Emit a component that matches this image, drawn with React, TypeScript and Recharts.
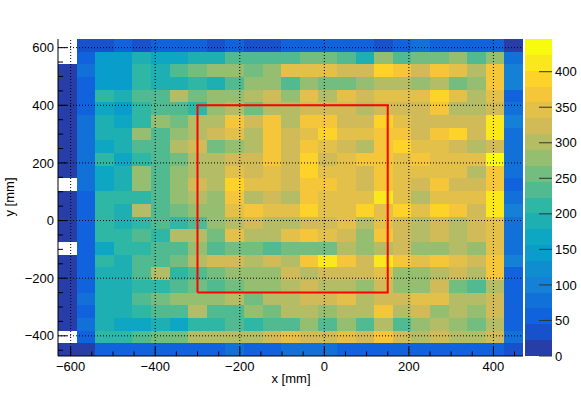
import React from 'react';
import { ComposedChart, XAxis, YAxis, ReferenceArea, ReferenceLine, Scatter } from 'recharts';

const W = 581;
const H = 396;
const FONT = '"Liberation Sans", Arial, Helvetica, sans-serif';

// bin edges (mm)
const xEdges = [-630, -586, -542, -498, -454, -410, -366, -322, -278, -234, -190, -146, -102, -58, -14, 30, 74, 118, 162, 206, 250, 294, 338, 382, 426, 470];
const yEdges = [630, 586, 542, 498, 454, 410, 366, 322, 278, 234, 190, 146, 102, 58, 14, -30, -74, -118, -162, -206, -250, -294, -338, -382, -426, -470];

// counts per row, top row first, columns left to right
const row00 = [0, 28, 25, 50, 28, 50, 50, 50, 30, 50, 28, 28, 50, 50, 50, 50, 55, 30, 50, 70, 55, 50, 50, 50, 20];
const row01 = [0, 50, 140, 140, 185, 165, 165, 195, 190, 230, 235, 235, 235, 255, 255, 235, 200, 275, 245, 255, 255, 275, 225, 275, 85];
const row02 = [15, 78, 145, 145, 210, 190, 235, 255, 280, 280, 255, 280, 345, 355, 345, 325, 325, 390, 368, 323, 368, 345, 300, 368, 90];
const row03 = [15, 65, 145, 140, 210, 195, 190, 210, 195, 230, 280, 280, 230, 280, 255, 255, 280, 300, 300, 280, 300, 255, 280, 365, 95];
const row04 = [15, 55, 210, 200, 235, 235, 300, 255, 280, 280, 300, 323, 280, 345, 300, 345, 323, 345, 345, 345, 390, 345, 300, 345, 65];
const row05 = [15, 65, 160, 150, 210, 225, 240, 220, 280, 300, 255, 300, 300, 320, 320, 320, 300, 320, 320, 320, 365, 300, 300, 320, 75];
const row06 = [15, 75, 195, 170, 210, 270, 260, 300, 300, 365, 320, 365, 300, 365, 365, 320, 320, 390, 345, 320, 320, 320, 320, 410, 105];
const row07 = [15, 75, 190, 185, 275, 235, 275, 290, 320, 345, 300, 365, 320, 345, 390, 345, 345, 365, 365, 320, 365, 390, 320, 410, 80];
const row08 = [15, 70, 175, 185, 235, 235, 300, 320, 255, 280, 300, 365, 320, 365, 345, 320, 300, 365, 390, 345, 345, 320, 300, 320, 80];
const row09 = [15, 75, 205, 170, 210, 235, 255, 300, 300, 320, 320, 365, 320, 390, 320, 345, 365, 365, 345, 365, 345, 345, 345, 440, 80];
const row10 = [15, 75, 170, 190, 275, 235, 275, 300, 300, 345, 320, 345, 320, 390, 345, 345, 320, 365, 345, 345, 345, 345, 300, 365, 80];
const row11 = [0, 75, 170, 185, 275, 235, 275, 320, 300, 390, 345, 345, 320, 365, 365, 345, 320, 365, 345, 320, 365, 320, 320, 365, 65];
const row12 = [15, 60, 210, 210, 215, 235, 280, 300, 280, 365, 300, 330, 300, 365, 340, 345, 340, 410, 345, 300, 345, 345, 345, 410, 80];
const row13 = [15, 55, 205, 195, 300, 235, 255, 280, 280, 345, 365, 345, 345, 390, 345, 345, 390, 345, 390, 345, 390, 365, 320, 410, 100];
const row14 = [15, 55, 205, 180, 210, 235, 210, 245, 280, 300, 320, 300, 300, 320, 320, 345, 300, 345, 320, 300, 320, 300, 320, 345, 80];
const row15 = [15, 55, 205, 205, 235, 210, 300, 300, 255, 345, 300, 300, 345, 365, 345, 320, 280, 365, 320, 300, 320, 300, 320, 345, 80];
const row16 = [0, 55, 160, 205, 210, 235, 235, 275, 235, 255, 255, 235, 255, 255, 255, 300, 280, 300, 320, 280, 280, 300, 280, 345, 80];
const row17 = [15, 55, 205, 190, 235, 235, 255, 300, 320, 320, 300, 320, 300, 365, 410, 365, 320, 410, 365, 345, 365, 345, 320, 365, 90];
const row18 = [15, 55, 185, 190, 235, 300, 210, 235, 255, 280, 280, 280, 320, 300, 320, 320, 320, 345, 280, 280, 300, 320, 300, 365, 60];
const row19 = [15, 55, 185, 185, 220, 210, 235, 255, 245, 255, 280, 280, 300, 320, 300, 300, 280, 320, 280, 280, 320, 255, 230, 300, 60];
const row20 = [15, 70, 185, 185, 235, 255, 280, 280, 280, 300, 255, 300, 300, 320, 320, 345, 300, 320, 320, 345, 345, 300, 300, 320, 60];
const row21 = [15, 65, 185, 185, 210, 235, 235, 300, 235, 235, 280, 255, 300, 300, 280, 300, 300, 365, 300, 320, 280, 300, 280, 320, 60];
const row22 = [15, 70, 180, 170, 170, 180, 165, 220, 210, 235, 210, 235, 235, 280, 235, 280, 235, 300, 235, 280, 300, 280, 255, 300, 60];
const row23 = [0, 65, 210, 210, 235, 255, 255, 300, 300, 300, 300, 320, 345, 320, 320, 345, 320, 365, 320, 300, 320, 300, 300, 320, 80];
const row24 = [15, 20, 50, 50, 50, 50, 50, 50, 55, 70, 50, 50, 70, 70, 70, 55, 50, 50, 50, 50, 50, 50, 50, 50, 25];

const counts = [row00, row01, row02, row03, row04, row05, row06, row07, row08, row09, row10, row11, row12,
  row13, row14, row15, row16, row17, row18, row19, row20, row21, row22, row23, row24];

const xTicks = [-600, -550, -500, -450, -400, -350, -300, -250, -200, -150, -100, -50, 0, 50, 100, 150, 200, 250, 300, 350, 400, 450];
const yTicks = [-450, -400, -350, -300, -250, -200, -150, -100, -50, 0, 50, 100, 150, 200, 250, 300, 350, 400, 450, 500, 550, 600];
const xGrid = [-600, -400, -200, 0, 200, 400];
const yGrid = [-400, -200, 0, 200, 400, 600];
const zTicks = [0, 50, 100, 150, 200, 250, 300, 350, 400];
const boxCorners = [
  { x: -300, y: -250 },
  { x: -300, y: 400 },
  { x: 150, y: 400 },
  { x: 150, y: -250 },
  { x: -300, y: -250 },
];

const zMax = 446;
const nLevels = 20;

// kBird palette stops
const pStops = [0.0, 0.125, 0.25, 0.375, 0.5, 0.625, 0.75, 0.875, 1.0];
const pRed = [0.2082, 0.0592, 0.078, 0.0232, 0.1802, 0.5301, 0.8186, 0.9956, 0.9764];
const pGreen = [0.1664, 0.3599, 0.5041, 0.6419, 0.7178, 0.7492, 0.7328, 0.7862, 0.9832];
const pBlue = [0.5293, 0.8684, 0.8385, 0.7914, 0.6425, 0.4662, 0.3499, 0.1968, 0.0539];

function paletteAt(t: number): string {
  let i = 0;
  while (i < pStops.length - 2 && t > pStops[i + 1]) i++;
  const f = (t - pStops[i]) / (pStops[i + 1] - pStops[i]);
  const c = (a: number[]) => Math.round(255 * (a[i] + (a[i + 1] - a[i]) * f));
  return `rgb(${c(pRed)},${c(pGreen)},${c(pBlue)})`;
}
function levelColor(level: number): string {
  const idx = Math.floor(((level + 0.99) * 255) / nLevels);
  return paletteAt(Math.min(1, idx / 254));
}
function valueColor(v: number): string {
  let lv = Math.floor((v / zMax) * nLevels);
  if (lv > nLevels - 1) lv = nLevels - 1;
  if (lv < 0) lv = 0;
  return levelColor(lv);
}

const cells: { x1: number; x2: number; y1: number; y2: number; v: number }[] = [];
counts.forEach((row, r) => {
  row.forEach((v, c) => {
    if (v > 0) cells.push({ x1: xEdges[c], x2: xEdges[c + 1], y1: yEdges[r + 1], y2: yEdges[r], v });
  });
});

const levels = Array.from({ length: nLevels }, (_, i) => ({ lo: (i * zMax) / nLevels, hi: ((i + 1) * zMax) / nLevels, i, pos: 0.5 }));

const fmt = (v: number) => (v < 0 ? '\u2212' + Math.abs(v) : String(v));

const XTick = (props: any) => {
  const { x, y, payload } = props;
  const v = payload.value;
  const major = v % 200 === 0;
  return (
    <g>
      <line x1={x} x2={x} y1={y} y2={y - (major ? 9 : 4.5)} stroke="#000" strokeWidth={1} />
      {major && (
        <text x={x} y={y + 15} textAnchor="middle" fontSize={13} fontFamily={FONT} fill="#000">
          {fmt(v)}
        </text>
      )}
    </g>
  );
};

const YTick = (props: any) => {
  const { x, y, payload } = props;
  const v = payload.value;
  const major = v % 200 === 0;
  return (
    <g>
      <line x1={x} x2={x + (major ? 9 : 5)} y1={y} y2={y} stroke="#000" strokeWidth={1} />
      {major && (
        <text x={x - 4} y={y + 4.6} textAnchor="end" fontSize={13} fontFamily={FONT} fill="#000">
          {fmt(v)}
        </text>
      )}
    </g>
  );
};

const ZTick = (props: any) => {
  const { x, y, payload } = props;
  return (
    <g>
      <line x1={x} x2={x - 13} y1={y} y2={y} stroke="#333" strokeWidth={1} />
      <text x={x + 3} y={y + 4.6} textAnchor="start" fontSize={13} fontFamily={FONT} fill="#000">
        {payload.value}
      </text>
    </g>
  );
};

export default function App() {
  return (
    <div style={{ position: 'absolute', left: 0, top: 0, width: W, height: H, background: '#fff' }}>
      <div style={{ position: 'absolute', left: 0, top: 0 }}>
        <ComposedChart width={W} height={H} margin={{ top: 39, right: 58, bottom: 0, left: 0 }} data={boxCorners}>
          {cells.map((c, k) => (
            <ReferenceArea
              key={'c' + k}
              x1={c.x1}
              x2={c.x2}
              y1={c.y1}
              y2={c.y2}
              fill={valueColor(c.v)}
              fillOpacity={1}
              stroke="none"
              shapeRendering="crispEdges"
              ifOverflow="visible"
            />
          ))}
          {xGrid.map((g) => (
            <ReferenceLine key={'gx' + g} x={g} stroke="#000" strokeDasharray="1 2" strokeWidth={1} />
          ))}
          {yGrid.map((g) => (
            <ReferenceLine key={'gy' + g} y={g} stroke="#000" strokeDasharray="1 2" strokeWidth={1} />
          ))}
          <Scatter
            data={boxCorners}
            dataKey="y"
            line={{ stroke: '#ff0000', strokeWidth: 2 }}
            shape={() => <g />}
            isAnimationActive={false}
            fill="#ff0000"
          />
          <XAxis
            type="number"
            dataKey="x"
            domain={[-630, 470]}
            allowDataOverflow
            ticks={xTicks}
            interval={0}
            height={40}
            tickSize={0}
            tickMargin={0}
            tickLine={false}
            axisLine={{ stroke: '#000' }}
            tick={<XTick />}
          />
          <YAxis
            type="number"
            dataKey="y"
            domain={[-470, 630]}
            allowDataOverflow
            ticks={yTicks}
            interval={0}
            width={58}
            tickSize={0}
            tickMargin={0}
            tickLine={false}
            axisLine={{ stroke: '#000' }}
            tick={<YTick />}
          />
        </ComposedChart>
      </div>
      <div style={{ position: 'absolute', left: 525, top: 0 }}>
        <ComposedChart width={56} height={H} margin={{ top: 39, right: 0, bottom: 40, left: 0 }} data={levels}>
          {levels.map((l) => (
            <ReferenceArea
              key={'z' + l.i}
              x1={0}
              x2={1}
              y1={l.lo}
              y2={l.hi}
              fill={levelColor(l.i)}
              fillOpacity={1}
              stroke="none"
              shapeRendering="crispEdges"
              ifOverflow="visible"
            />
          ))}
          <Scatter data={levels} dataKey="hi" shape={() => <g />} isAnimationActive={false} />
          <XAxis type="number" dataKey="pos" domain={[0, 1]} allowDataOverflow hide />
          <YAxis
            type="number"
            dataKey="hi"
            orientation="right"
            domain={[0, zMax]}
            allowDataOverflow
            ticks={zTicks}
            interval={0}
            width={29}
            tickSize={0}
            tickMargin={0}
            tickLine={false}
            axisLine={false}
            tick={<ZTick />}
          />
        </ComposedChart>
      </div>
      <svg width={W} height={H} style={{ position: 'absolute', left: 0, top: 0, pointerEvents: 'none' }}>
        <text x={291} y={383} textAnchor="middle" fontSize={13} fontFamily={FONT} fill="#000">
          x [mm]
        </text>
        <text x={14} y={197} textAnchor="middle" fontSize={13} fontFamily={FONT} fill="#000" transform="rotate(-90 14 197)">
          y [mm]
        </text>
      </svg>
    </div>
  );
}
